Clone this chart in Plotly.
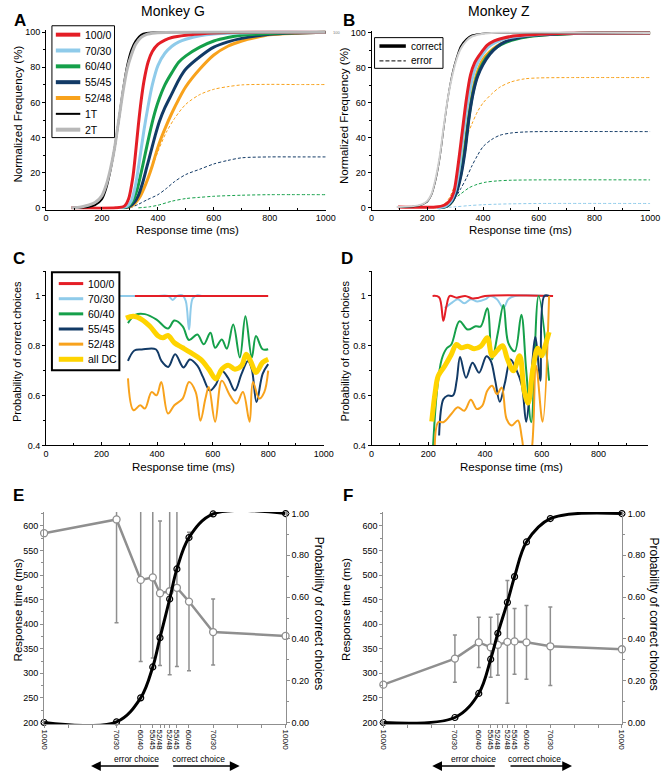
import plotly.graph_objects as go

W, H = 671, 775
FONT = 'Arial, "Liberation Sans", sans-serif'

RED = '#e41e26'
LBLUE = '#8fcbea'
GREEN = '#15a04a'
NAVY = '#123a66'
ORANGE = '#f8a21c'
GRAY = '#b8b8b8'
YELLOW = '#ffd400'
EFGRAY = '#8f8f8f'

COND_LABELS = ['100/0', '70/30', '60/40', '55/45', '52/48']
COND_COLORS = [RED, LBLUE, GREEN, NAVY, ORANGE]

# ---------------- A: Monkey G, cumulative RT (%) ----------------
A_RT_1T = [100, 150, 175, 200, 215, 230, 245, 260, 275, 290, 305, 320, 340, 360, 390, 450, 1000]
A_CUM_1T = [0, 0.5, 1.5, 5, 11, 21, 34, 50, 67, 81, 90, 95, 98.5, 99.5, 99.8, 100, 100]
A_RT_2T = [90, 125, 150, 175, 200, 215, 230, 245, 260, 275, 290, 305, 320, 340, 360, 390, 450, 1000]
A_CUM_2T = [0, 0.5, 1.5, 3, 7, 13, 22, 34, 50, 66, 79, 87, 93, 97, 98.8, 99.6, 100, 100]

A_RT_100 = [90, 250, 280, 295, 310, 320, 330, 340, 350, 365, 380, 400, 425, 450, 500, 550, 600, 700, 1000]
A_CUM_100 = [0, 0, 1, 5, 17, 31, 47, 61, 72, 83, 89, 93, 95.5, 97, 98.3, 99, 99.5, 100, 100]
A_RT_70 = [260, 290, 305, 320, 335, 350, 365, 380, 400, 425, 450, 475, 500, 550, 600, 700, 800, 1000]
A_CUM_70 = [0, 1, 4, 13, 28, 44, 58, 70, 81, 88, 92, 94.5, 96, 98, 99, 99.6, 100, 100]
A_RT_60 = [270, 295, 310, 325, 340, 355, 370, 385, 400, 425, 450, 475, 500, 550, 600, 650, 700, 800, 900, 1000]
A_CUM_60 = [0, 1, 4, 10, 20, 31, 42, 52, 60, 70, 77, 83, 86.5, 91.5, 95, 97, 98.2, 99.3, 99.8, 100]
A_RT_55 = [275, 300, 315, 330, 345, 360, 375, 390, 405, 425, 450, 475, 500, 550, 600, 650, 700, 800, 900, 1000]
A_CUM_55 = [0, 1, 3, 7, 14, 23, 32, 41, 49, 57, 65, 73, 79, 86, 91.5, 94.5, 96.5, 98.8, 99.6, 100]
A_RT_52 = [280, 305, 320, 335, 350, 365, 380, 395, 410, 425, 450, 475, 500, 550, 600, 650, 700, 750, 800, 900, 1000]
A_CUM_52 = [0, 1, 3, 6, 11, 17, 24, 32, 39, 45, 54, 62, 69, 79, 87, 92, 95, 97, 98.5, 99.4, 100]

A_ERR_RT_60 = [330, 370, 400, 450, 500, 550, 600, 700, 800, 1000]
A_ERR_CUM_60 = [0, 0.6, 1.5, 3.8, 5.3, 6, 6.6, 7.2, 7.5, 7.5]
A_ERR_RT_55 = [300, 330, 360, 400, 430, 460, 500, 550, 600, 650, 700, 800, 900, 1000]
A_ERR_CUM_55 = [0, 2, 4.5, 7.5, 11, 15, 19, 22, 25, 27, 28.5, 29, 29, 29]
A_ERR_RT_52 = [295, 320, 345, 370, 400, 430, 460, 500, 550, 600, 650, 700, 800, 900, 1000]
A_ERR_CUM_52 = [0, 3, 10, 19, 32, 43, 51, 59, 64.5, 67.5, 69, 70, 70.3, 70.2, 70.2]

# ---------------- B: Monkey Z, cumulative RT (%) ----------------
B_RT_1T = [100, 150, 180, 200, 215, 230, 245, 260, 275, 290, 305, 320, 340, 360, 390, 430, 1000]
B_CUM_1T = [0.3, 0.8, 1.8, 3.5, 7.5, 16, 29, 47, 64, 77, 86, 92.5, 96.5, 98.7, 99.5, 100, 100]
B_RT_2T = [90, 150, 180, 200, 215, 230, 245, 260, 275, 290, 305, 320, 340, 360, 390, 430, 1000]
B_CUM_2T = [0.5, 1, 2, 4, 8, 17, 30, 48, 64, 76, 85, 91, 95.5, 98, 99.3, 100, 100]

B_RT_100 = [95, 230, 260, 280, 295, 310, 325, 340, 355, 370, 390, 415, 440, 470, 500, 550, 600, 700, 800, 1000]
B_CUM_100 = [0.5, 0.5, 1.5, 4, 9, 24, 43, 62, 76, 83, 88, 93, 95.5, 97, 98, 98.8, 99.3, 99.8, 100, 100]
B_RT_70 = [235, 265, 285, 300, 315, 330, 345, 360, 375, 395, 420, 450, 480, 520, 600, 700, 800, 1000]
B_CUM_70 = [0, 1, 4, 10, 23, 43, 60, 73, 81, 87, 92, 95, 96.8, 98, 99.2, 99.8, 100, 100]
B_RT_60 = [240, 270, 290, 305, 320, 335, 350, 365, 380, 400, 425, 450, 480, 520, 560, 600, 700, 800, 1000]
B_CUM_60 = [0, 1, 4, 10, 19, 34, 53, 67, 76, 83, 88.5, 92, 94.5, 96.5, 97.8, 98.6, 99.5, 100, 100]
B_RT_55 = [240, 270, 290, 305, 320, 335, 350, 365, 380, 400, 425, 450, 480, 520, 560, 600, 700, 800, 1000]
B_CUM_55 = [0, 1, 4, 9, 18, 32, 52, 66, 75, 82, 88, 92, 95, 97, 98.2, 98.8, 99.6, 100, 100]
B_RT_52 = [240, 270, 290, 305, 320, 335, 350, 365, 380, 400, 425, 450, 480, 520, 560, 600, 700, 800, 1000]
B_CUM_52 = [0, 1, 4, 10, 20, 36, 55, 69, 78, 85, 89.5, 92.5, 95, 97, 98, 98.8, 99.6, 100, 100]

B_ERR_RT_70 = [240, 300, 350, 400, 450, 500, 600, 1000]
B_ERR_CUM_70 = [0, 0.6, 1.3, 1.8, 2.1, 2.3, 2.5, 2.5]
B_ERR_RT_60 = [230, 260, 290, 320, 350, 380, 410, 450, 500, 600, 1000]
B_ERR_CUM_60 = [0, 1.5, 4.5, 8, 11.5, 13.5, 14.7, 15.4, 15.8, 16, 16]
B_ERR_RT_55 = [235, 270, 300, 320, 340, 360, 380, 400, 430, 460, 500, 550, 600, 1000]
B_ERR_CUM_55 = [0, 2, 6, 11, 17, 24, 30, 35, 39, 41.5, 42.8, 43.4, 43.6, 43.6]
B_ERR_RT_52 = [230, 260, 280, 300, 320, 340, 360, 380, 400, 430, 460, 500, 550, 600, 700, 1000]
B_ERR_CUM_52 = [0, 2, 6, 14, 28, 40, 48, 55, 60, 65, 69, 72, 73.8, 74.3, 74.5, 74.5]

# ---------------- C: Monkey G, P(correct) vs RT ----------------
C_RT_100 = [320, 560, 800]
C_P_100 = [1.0, 1.0, 1.0]
C_RT_70 = [250, 300, 350, 400, 440, 456, 472, 490, 503, 515, 528, 545, 560]
C_P_70 = [1.0, 1.0, 1.0, 1.0, 1.0, 0.984, 1.0, 1.003, 0.98, 0.865, 0.99, 1.003, 1.0]
C_RT_60 = [295, 321, 356, 398, 439, 462, 492, 515, 545, 568, 592, 609, 633, 651, 674, 698, 718, 741, 756, 780, 800]
C_P_60 = [0.891, 0.924, 0.927, 0.905, 0.869, 0.901, 0.878, 0.823, 0.845, 0.806, 0.852, 0.792, 0.825, 0.788,
          0.885, 0.753, 0.918, 0.753, 0.839, 0.786, 0.786]
C_RT_55 = [295, 318, 345, 395, 415, 440, 465, 495, 518, 545, 565, 590, 612, 633, 656, 680, 704, 727, 741, 758,
           780, 800]
C_P_55 = [0.739, 0.781, 0.785, 0.786, 0.74, 0.715, 0.766, 0.713, 0.745, 0.72, 0.675, 0.62, 0.645, 0.70, 0.67,
          0.62, 0.687, 0.739, 0.706, 0.574, 0.687, 0.726]
C_RT_52 = [295, 315, 339, 356, 380, 398, 415, 439, 462, 492, 515, 539, 556, 574, 586, 609, 633, 662, 686, 709,
           733, 745, 768, 786, 800]
C_P_52 = [0.669, 0.541, 0.561, 0.548, 0.614, 0.601, 0.654, 0.528, 0.561, 0.588, 0.654, 0.614, 0.499, 0.588,
          0.634, 0.495, 0.66, 0.601, 0.568, 0.614, 0.495, 0.654, 0.588, 0.614, 0.70]
C_RT_ALL = [288, 315, 345, 374, 404, 421, 439, 462, 492, 521, 556, 586, 612, 633, 656, 680, 704, 721, 739, 756,
            780, 800]
C_P_ALL = [0.911, 0.918, 0.905, 0.878, 0.839, 0.832, 0.841, 0.812, 0.792, 0.772, 0.746, 0.706, 0.667, 0.706,
           0.722, 0.706, 0.72, 0.766, 0.733, 0.693, 0.733, 0.746]

# ---------------- D: Monkey Z, P(correct) vs RT ----------------
D_RT_100 = [215, 238, 253, 264, 276, 300, 330, 355, 375, 400, 640]
D_P_100 = [1.0, 0.995, 0.90, 0.96, 1.0, 0.993, 1.0, 0.99, 0.992, 1.0, 1.0]
D_RT_70 = [258, 281, 304, 327, 350, 373, 402, 419, 442, 465, 482, 505, 620]
D_P_70 = [0.951, 0.971, 0.987, 0.971, 0.987, 0.978, 0.987, 1.0, 0.987, 0.951, 0.987, 1.0, 1.0]
D_RT_60 = [216, 230, 247, 265, 281, 310, 339, 367, 385, 408, 425, 445, 465, 482, 505, 528, 545, 563, 589, 626]
D_P_60 = [0.38, 0.612, 0.745, 0.79, 0.805, 0.898, 0.865, 0.878, 0.878, 0.951, 0.745, 0.85, 0.964, 0.812,
          0.778, 0.925, 0.705, 0.493, 1.0, 0.66]
D_RT_55 = [238, 253, 268, 287, 300, 312, 333, 356, 379, 405, 420, 436, 452, 470, 490, 510, 530, 545, 560, 578,
           595, 609, 626]
D_P_55 = [0.44, 0.585, 0.60, 0.60, 0.66, 0.755, 0.672, 0.732, 0.692, 0.758, 0.74, 0.66, 0.575, 0.65, 0.745,
          0.705, 0.64, 0.495, 0.64, 0.835, 0.66, 1.0, 1.0]
D_RT_52 = [222, 235, 253, 281, 304, 327, 350, 371, 390, 408, 425, 442, 459, 476, 494, 516, 530, 545, 560, 580,
           603, 626]
D_P_52 = [0.35, 0.493, 0.493, 0.526, 0.553, 0.539, 0.583, 0.546, 0.559, 0.619, 0.639, 0.606, 0.632, 0.506,
          0.48, 0.50, 0.43, 0.33, 0.35, 0.72, 0.495, 1.0]
D_RT_ALL = [212, 224, 235, 258, 281, 299, 316, 339, 362, 385, 408, 425, 442, 462, 478, 500, 522, 538, 552, 568,
            586, 600, 612, 626]
D_P_ALL = [0.496, 0.612, 0.679, 0.719, 0.765, 0.805, 0.792, 0.798, 0.788, 0.798, 0.832, 0.76, 0.78, 0.80, 0.75,
           0.70, 0.76, 0.62, 0.57, 0.70, 0.79, 0.76, 0.80, 0.855]

# ---------------- E / F: RT and choice vs signed stimulus ----------------
COHERENCE = [-100, -40, -20, -10, -4, 4, 10, 20, 40, 100]
COH_LABELS = ['100/0', '70/30', '60/40', '55/45', '52/48', '52/48', '55/45', '60/40', '70/30', '100/0']
E_RT = [585, 613, 490, 495, 463, 467, 474, 446, 384, 376]
E_RT_SD = [0, 210, 166, 164, 147, 170, 160, 141, 67, 0]
E_P = [0.0, 0.003, 0.118, 0.266, 0.406, 0.591, 0.735, 0.885, 0.998, 1.0]
F_RT = [277, 330, 363, 353, 358, 364, 365, 363, 355, 349]
F_RT_SD = [0, 48, 51, 61, 62, 125, 67, 75, 80, 0]
F_P = [0.0, 0.024, 0.139, 0.303, 0.427, 0.575, 0.698, 0.864, 0.976, 1.0]


def dom_x(p0, v0, p1, v1, rng):
    k = (p1 - p0) / (v1 - v0)
    return [(p0 + (rng[0] - v0) * k) / W, (p0 + (rng[1] - v0) * k) / W]


def dom_y(p0, v0, p1, v1, rng):
    k = (p1 - p0) / (v1 - v0)
    return [1 - (p0 + (rng[0] - v0) * k) / H, 1 - (p0 + (rng[1] - v0) * k) / H]


def axis(domain, rng, anchor, color='black', **kw):
    d = dict(domain=domain, range=rng, anchor=anchor, showline=True, linecolor=color, linewidth=1,
             ticks='outside', ticklen=3, tickcolor=color, tickwidth=1, showgrid=False, zeroline=False,
             tickfont=dict(size=9, color='black', family=FONT))
    d.update(kw)
    return d


fig = go.Figure()


def line(x, y, color, width, xa, ya, dash='solid', smooth=0.8):
    fig.add_trace(go.Scatter(x=x, y=y, mode='lines', xaxis=xa, yaxis=ya, showlegend=False,
                             line=dict(color=color, width=width, dash=dash, shape='spline', smoothing=smooth),
                             hoverinfo='skip'))


# A
line(A_ERR_RT_60, A_ERR_CUM_60, GREEN, 1, 'x', 'y', dash='3px,2px')
line(A_ERR_RT_55, A_ERR_CUM_55, NAVY, 1, 'x', 'y', dash='3px,2px')
line(A_ERR_RT_52, A_ERR_CUM_52, ORANGE, 1, 'x', 'y', dash='3px,2px')
for rt, cum, c in [(A_RT_52, A_CUM_52, ORANGE), (A_RT_55, A_CUM_55, NAVY), (A_RT_60, A_CUM_60, GREEN),
                   (A_RT_70, A_CUM_70, LBLUE), (A_RT_100, A_CUM_100, RED)]:
    line(rt, cum, c, 3, 'x', 'y')
line(A_RT_1T, A_CUM_1T, 'black', 2, 'x', 'y')
line(A_RT_2T, A_CUM_2T, GRAY, 3, 'x', 'y')

# B
line(B_ERR_RT_70, B_ERR_CUM_70, LBLUE, 1, 'x2', 'y2', dash='3px,2px')
line(B_ERR_RT_60, B_ERR_CUM_60, GREEN, 1, 'x2', 'y2', dash='3px,2px')
line(B_ERR_RT_55, B_ERR_CUM_55, NAVY, 1, 'x2', 'y2', dash='3px,2px')
line(B_ERR_RT_52, B_ERR_CUM_52, ORANGE, 1, 'x2', 'y2', dash='3px,2px')
for rt, cum, c in [(B_RT_52, B_CUM_52, ORANGE), (B_RT_60, B_CUM_60, GREEN), (B_RT_55, B_CUM_55, NAVY),
                   (B_RT_70, B_CUM_70, LBLUE), (B_RT_100, B_CUM_100, RED)]:
    line(rt, cum, c, 3, 'x2', 'y2')
line(B_RT_1T, B_CUM_1T, 'black', 1.5, 'x2', 'y2')
line(B_RT_2T, B_CUM_2T, '#cfcfcf', 2, 'x2', 'y2')

# C and D
for pre, xa, ya in [('C', 'x3', 'y3'), ('D', 'x4', 'y4')]:
    g = globals()
    line(g[pre + '_RT_70'], g[pre + '_P_70'], LBLUE, 2, xa, ya, smooth=1)
    line(g[pre + '_RT_100'], g[pre + '_P_100'], RED, 2, xa, ya, smooth=1)
    line(g[pre + '_RT_60'], g[pre + '_P_60'], GREEN, 2, xa, ya, smooth=1)
    line(g[pre + '_RT_55'], g[pre + '_P_55'], NAVY, 2, xa, ya, smooth=1)
    line(g[pre + '_RT_52'], g[pre + '_P_52'], ORANGE, 2, xa, ya, smooth=1)
    line(g[pre + '_RT_ALL'], g[pre + '_P_ALL'], YELLOW, 5, xa, ya, smooth=1)

# E and F
for rt, sd, p, xa, ya, ya2 in [(E_RT, E_RT_SD, E_P, 'x5', 'y5', 'y7'), (F_RT, F_RT_SD, F_P, 'x6', 'y6', 'y8')]:
    fig.add_trace(go.Scatter(x=COHERENCE, y=rt, xaxis=xa, yaxis=ya, mode='lines+markers', showlegend=False,
                             line=dict(color=EFGRAY, width=2.5),
                             marker=dict(symbol='circle', size=7, color='white', line=dict(color=EFGRAY, width=1.3)),
                             error_y=dict(type='data', array=sd, visible=True, color=EFGRAY, thickness=1.5, width=2),
                             cliponaxis=False, hoverinfo='skip'))
    fig.add_trace(go.Scatter(x=COHERENCE, y=p, xaxis=xa, yaxis=ya2, mode='lines+markers', showlegend=False,
                             line=dict(color='black', width=3, shape='spline', smoothing=1),
                             marker=dict(symbol='circle-open', size=6, color='black', line=dict(width=1.2)),
                             cliponaxis=False, hoverinfo='skip'))

# ---------------- axes ----------------
rA_y = [-1, 101]
rC_y = [0.4, 1.1]
rE_y = [197.0, 628.0]
rE_y2 = [-0.007, 1.007]
cp_ticks = dict(tickvals=[0.4, 0.6, 0.8, 1.0], ticktext=['0.4', '0.6', '0.8', '1'],
                minor=dict(dtick=0.1, ticks='outside', ticklen=2, tickcolor='black'))
rt_ticks = dict(tickvals=[0, 200, 400, 600, 800, 1000], ticks='inside',
                minor=dict(dtick=100, ticks='inside', ticklen=2, tickcolor='black'))
coh_ticks = dict(tickvals=COHERENCE, ticktext=COH_LABELS, tickangle=90, tickfont=dict(size=8, color='black', family=FONT),
                 minor=dict(dtick=20, tick0=0, ticks='outside', ticklen=3, tickcolor=EFGRAY))
left_rt = dict(tickvals=list(range(200, 601, 50)), minor=dict(dtick=25, ticks='outside', ticklen=2, tickcolor=EFGRAY))
right_p = dict(tickvals=[0, 0.2, 0.4, 0.6, 0.8, 1.0], ticktext=['0.00', '0.20', '0.40', '0.60', '0.80', '1.00'],
               minor=dict(dtick=0.1, ticks='outside', ticklen=2, tickcolor=EFGRAY))

fig.update_layout(
    xaxis=axis(dom_x(42, 0, 328, 1000, [0, 1000]), [0, 1000], 'y', **rt_ticks),
    yaxis=axis(dom_y(207, 0, 29.5, 100, rA_y), rA_y, 'x', tickvals=[0, 20, 40, 60, 80, 100],
               minor=dict(dtick=10, ticks='outside', ticklen=2, tickcolor='black')),
    xaxis2=axis(dom_x(375, 0, 660, 1000, [0, 1000]), [0, 1000], 'y2', **rt_ticks),
    yaxis2=axis(dom_y(207, 0, 30.3, 100, rA_y), rA_y, 'x2', tickvals=[0, 20, 40, 60, 80, 100],
                minor=dict(dtick=10, ticks='outside', ticklen=2, tickcolor='black')),
    xaxis3=axis(dom_x(42, 0, 326, 1000, [0, 1000]), [0, 1000], 'y3', **rt_ticks),
    yaxis3=axis(dom_y(447, 0.4, 296, 1.0, rC_y), rC_y, 'x3', **cp_ticks),
    xaxis4=axis(dom_x(375, 0, 607, 800, [0, 976]), [0, 976], 'y4', tickvals=[0, 200, 400, 600, 800], ticks='inside',
                minor=dict(dtick=100, ticks='inside', ticklen=2, tickcolor='black')),
    yaxis4=axis(dom_y(447, 0.4, 296, 1.0, rC_y), rC_y, 'x4', **cp_ticks),
    xaxis5=axis(dom_x(40, -100, 287, 100, [-100, 100]), [-100, 100], 'y5', color=EFGRAY, **coh_ticks),
    yaxis5=axis(dom_y(727, 200, 528.3, 600, rE_y), rE_y, 'x5', color=EFGRAY, **left_rt),
    yaxis7=axis(dom_y(727, 200, 528.3, 600, rE_y), rE_y2, 'x5', color=EFGRAY, overlaying='y5', side='right',
                **right_p),
    xaxis6=axis(dom_x(387, -100, 631, 100, [-100, 100]), [-100, 100], 'y6', color=EFGRAY, **coh_ticks),
    yaxis6=axis(dom_y(727, 200, 528.3, 600, rE_y), rE_y, 'x6', color=EFGRAY, **left_rt),
    yaxis8=axis(dom_y(727, 200, 528.3, 600, rE_y), rE_y2, 'x6', color=EFGRAY, overlaying='y6', side='right',
                **right_p),
)

# ---------------- text ----------------
ann = []


def txt(x, y, s, size=12, bold=False, angle=0, xanchor='center', color='black'):
    ann.append(dict(x=x / W, y=1 - y / H, xref='paper', yref='paper', text=f'<b>{s}</b>' if bold else s,
                    showarrow=False, textangle=angle, xanchor=xanchor, yanchor='middle',
                    font=dict(size=size, color=color, family=FONT)))


txt(172, 8, 'Monkey G', 14)
txt(505, 8, 'Monkey Z', 14)
for s, x, y in [('A', 15, 18), ('B', 352, 18), ('C', 14, 258), ('D', 350, 258), ('E', 14, 498), ('F', 351, 498)]:
    txt(x, y, s, 17, bold=True)
txt(13, 112, 'Normalized Frequency (%)', 11.5, angle=-90)
txt(347, 114, 'Normalized Frequency (%)', 11.5, angle=-90)
txt(187, 229, 'Response time (ms)', 11.5)
txt(527, 229, 'Response time (ms)', 11.5)
txt(13, 352, 'Probability of correct choices', 11, angle=-90)
txt(348, 352, 'Probability of correct choices', 11, angle=-90)
txt(183, 469, 'Response time (ms)', 11.5)
txt(518, 469, 'Response time (ms)', 11.5)
txt(13, 613, 'Response time (ms)', 11.5, angle=-90)
txt(348, 613, 'Response time (ms)', 11.5, angle=-90)
txt(322, 617, 'Probability of correct choices', 12, angle=90)
txt(664, 617, 'Probability of correct choices', 12, angle=90)
txt(333, 30, '100', 4, xanchor='left', color='#777')

# error / correct choice arrows under E and F
for err_x, cor_x, l_tip, l_tail, r_tail, r_tip in [(135, 198, 88, 157, 172, 240), (479, 542, 437, 501, 517, 580)]:
    txt(err_x, 764, 'error choice', 8.5)
    txt(cor_x, 764, 'correct choice', 8.5)
    for tip, tail in [(l_tip, l_tail), (r_tip, r_tail)]:
        ann.append(dict(x=tip / W, y=1 - 771 / H, xref='paper', yref='paper', text='', showarrow=True,
                        ax=tail - tip, ay=0, arrowhead=2, arrowsize=1.4, arrowwidth=1.4, arrowcolor='black'))

# ---------------- legends (boxes drawn in paper space) ----------------
shapes = []


def pline(x0, x1, y, color, width, dash='solid'):
    shapes.append(dict(type='line', xref='paper', yref='paper', x0=x0 / W, x1=x1 / W, y0=1 - y / H, y1=1 - y / H,
                       line=dict(color=color, width=width, dash=dash)))


def pbox(x0, y0, x1, y1, width):
    shapes.append(dict(type='rect', xref='paper', yref='paper', x0=x0 / W, x1=x1 / W, y0=1 - y1 / H, y1=1 - y0 / H,
                       line=dict(color='black', width=width), fillcolor='white', layer='above'))


pbox(48, 23, 112, 136, 1)
for i, (lab, col, w) in enumerate(zip(COND_LABELS + ['1T', '2T'], COND_COLORS + ['black', GRAY],
                                      [4, 4, 4, 4, 4, 2, 4])):
    y = 32 + i * 16
    pline(52, 77, y, col, w)
    txt(80, y, lab, 10.5, xanchor='left')

pbox(378, 35, 448, 66, 1)
pline(383, 410, 43.5, 'black', 3.5)
txt(413, 43.5, 'correct', 10, xanchor='left')
pline(383, 410, 58.5, 'black', 1, dash='4px,2px')
txt(413, 58.5, 'error', 10, xanchor='left')

pbox(48, 272, 117, 371, 2)
for i, (lab, col, w) in enumerate(zip(COND_LABELS + ['all DC'], COND_COLORS + [YELLOW], [3, 3, 3, 3, 3, 5])):
    y = 283.5 + i * 15.3
    pline(55, 80, y, col, w)
    txt(83, y, lab, 10.5, xanchor='left')

fig.update_layout(width=W, height=H, margin=dict(l=0, r=0, t=0, b=0), paper_bgcolor='white',
                  plot_bgcolor='white', showlegend=False, annotations=ann, shapes=shapes,
                  font=dict(family=FONT, size=10, color='black'))

fig.write_html('out.html', config={'displayModeBar': False},
               post_script="document.body.style.margin='0px';")
